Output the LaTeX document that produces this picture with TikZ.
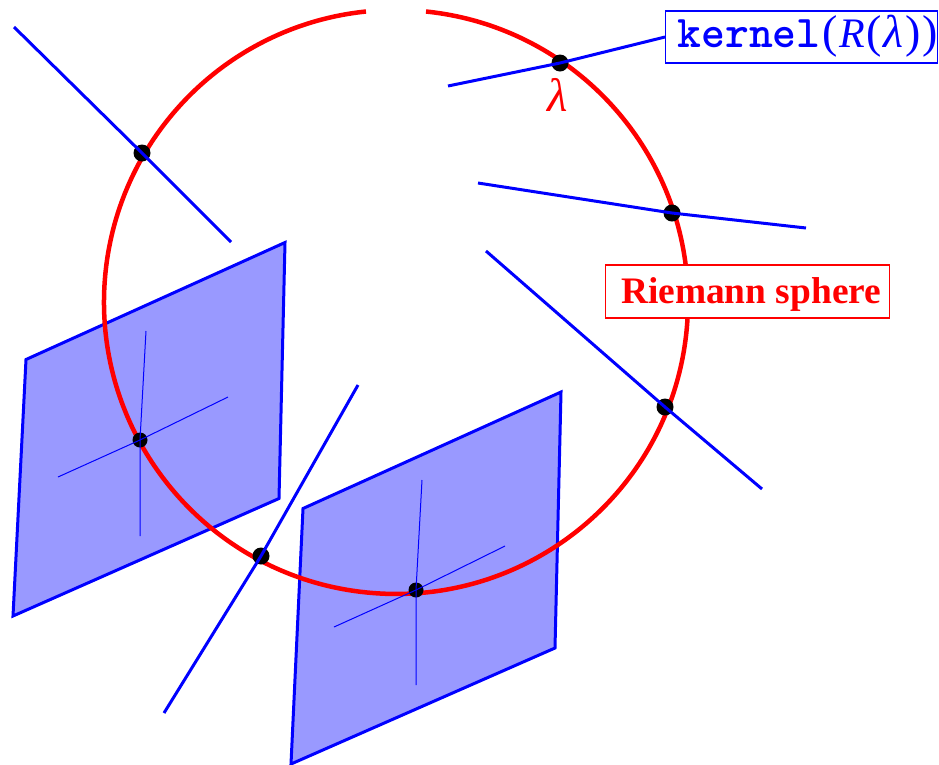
\documentclass[tikz,border=0pt]{standalone}
\usepackage{fontspec}
\setmainfont{Liberation Serif}
\tikzset{
  x=1pt,y=-1pt,
  planeshape/.style={draw=blue,line width=3pt,fill=blue!40!white,line join=miter},
  thickline/.style={draw=blue,line width=3pt},
  thinline/.style={draw=blue,line width=1pt},
  sphereline/.style={draw=red,line width=4.5pt},
  dotmark/.style={circle,fill=black,inner sep=0pt,minimum size=17pt},
  redbox/.style={draw=red,fill=white,line width=1.2pt,text=red,inner sep=0pt,minimum width=283.5pt,minimum height=53pt},
  bluebox/.style={draw=blue,fill=white,line width=1.2pt,text=blue,inner sep=0pt,minimum width=272pt,minimum height=52pt}
}
\begin{document}
\begin{tikzpicture}
\useasboundingbox (0,0) rectangle (939,764);
% planes
\draw[planeshape] (26,359.5) -- (285,242.5) -- (279,498.5) -- (13,616) -- cycle;
\draw[planeshape] (303,508.5) -- (561,392) -- (555,648) -- (291,764) -- cycle;
% sphere
\draw[sphereline] (426,11.5) arc[start angle=-84.1,end angle=264.1,radius=292];
% points
\node[dotmark] (p1) at (560,63) {};
\node[dotmark] (p2) at (672,213) {};
\node[dotmark] (p3) at (665,407) {};
\node[dotmark,minimum size=15pt] (p4) at (416,590) {};
\node[dotmark] (p5) at (261,556) {};
\node[dotmark,minimum size=15pt] (p6) at (140,440) {};
\node[dotmark] (p7) at (142,153) {};
% free ends
\coordinate (a1) at (448,86);
\coordinate (a2) at (478,183);
\coordinate (b2) at (806,228);
\coordinate (a3) at (486,251);
\coordinate (b3) at (762,489);
\coordinate (a5) at (358,385);
\coordinate (b5) at (164,713);
\coordinate (a7) at (14,27);
\coordinate (b7) at (231,242);
\coordinate (h4a) at (334,627);
\coordinate (h4b) at (505,546);
\coordinate (v4a) at (422,480);
\coordinate (v4b) at (416,685);
\coordinate (h6a) at (58,477);
\coordinate (h6b) at (228,397);
\coordinate (v6a) at (146,331);
\coordinate (v6b) at (140,536);
% labels
\node[bluebox,anchor=west] (kern) at (665,37) {\raisebox{-10pt}[0pt][0pt]{\makebox[272pt][l]{\hspace*{12pt}\fontsize{45.4}{45}\selectfont{\ttfamily\bfseries\addfontfeature{FakeBold=1.2}kernel}\fontsize{46}{46}\selectfont\hspace{2pt}(\hspace{2pt}{\fontsize{42}{42}\selectfont\textit{R}}\hspace{1pt}(\hspace{2pt}\textit{λ}\hspace{2pt})\hspace{1pt})}}};
\node[redbox,anchor=west] (riem) at (605,291.5) {\raisebox{-11.5pt}[0pt][0pt]{\makebox[283.5pt][l]{\hspace*{15.5pt}\fontsize{37.4}{37.4}\selectfont\bfseries Riemann sphere}}};
\node[text=red,inner sep=0pt] (lam) at (557.5,95) {\fontsize{47}{47}\selectfont\textit{λ}};
% lines
\draw[thickline] (a1) -- (p1.center) -- (kern.west);
\draw[thickline] (a2) -- (p2.center) -- (b2);
\draw[thickline] (a3) -- (p3.center) -- (b3);
\draw[thickline] (a5) -- (p5.center) -- (b5);
\draw[thickline] (a7) -- (p7.center) -- (b7);
\draw[thinline] (h4a) -- (p4.center) -- (h4b);
\draw[thinline] (v4a) -- (p4.center) -- (v4b);
\draw[thinline] (h6a) -- (p6.center) -- (h6b);
\draw[thinline] (v6a) -- (p6.center) -- (v6b);
\end{tikzpicture}
\end{document}
